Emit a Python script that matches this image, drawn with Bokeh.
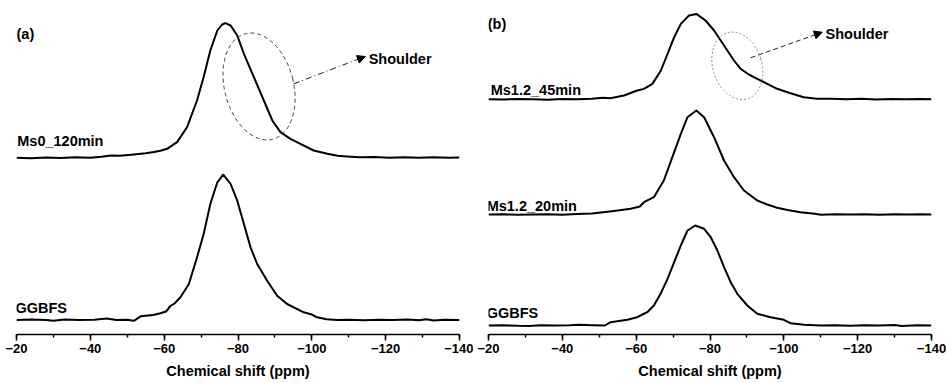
from bokeh.plotting import figure
from bokeh.layouts import row
from bokeh.models import Range1d, SingleIntervalTicker, Arrow, NormalHead
from bokeh.core.properties import value
from bokeh.embed import file_html
from bokeh.resources import INLINE

# ---------------- data (ppm, intensity in a.u.) ----------------
a_ggbfs_ppm = [-20, -24, -28, -30, -33, -37, -41, -44.5, -47, -50, -51.8, -53.6, -57, -59, -60.5,
               -61.7, -62.8, -64.4, -66.7, -68.9, -70.7, -72.5, -74.4, -76, -78, -79.8, -81.6,
               -83.4, -85.2, -87.9, -90.6, -93.3, -97.8, -100, -101.4, -104, -106.9, -110, -114,
               -118, -122, -126, -129, -131, -133, -136, -140]
a_ggbfs_int = [0, 0.5, 0, -0.8, 0.5, 0, 0.3, 1.5, 0, 0.3, -0.8, 3.7, 5, 6.7, 8.5,
               14, 16.5, 22.7, 36, 62.7, 86, 116, 137.7, 145.3, 136, 119.3, 96,
               72.7, 56, 39.3, 24.3, 16, 7.7, 5.5, 2.7, 0.8, 0, 0.3, -0.3,
               0.3, 0, 0.5, -0.3, 0.8, -0.5, 0.3, 0]

a_ms0_ppm = [-20, -24, -28, -32, -36, -40, -43, -45.5, -48, -51.8, -55, -57.2, -59, -60.8, -62,
             -63.5, -66.2, -68.9, -70.7, -72.5, -74.4, -75.7, -76.6, -78, -79.8, -81.6, -84.3,
             -87, -89.3, -91.5, -94.2, -96.9, -100.5, -104.2, -107, -109.6, -113, -117, -121,
             -125, -129, -133, -137, -140]
a_ms0_int = [0, -0.5, 0.3, -0.3, 0.5, 0, 1, 2.3, 2, 3.3, 4.5, 5.7, 7, 9, 12,
             15.7, 30.7, 57.3, 80.7, 107.3, 127.3, 133.3, 134.7, 132.3, 122.3, 104, 80.7,
             57.3, 37.3, 25.7, 19, 14, 7.3, 4, 2, 1.3, 0.5, 0.8, 0,
             0.5, 0, 0.5, 0, 0.3]

b_ms45_ppm = [-20, -24, -28, -32, -36, -40, -44, -48, -51, -53, -56.7, -60.3, -62.1, -64.4,
              -66.7, -68.5, -70.3, -72.1, -74.3, -76.3, -78.8, -81.1, -82.9, -84.7, -86.5,
              -88.3, -90.5, -92.8, -95.5, -98.2, -101.8, -105.4, -109, -113, -117, -121, -125,
              -129, -133, -137, -140]
b_ms45_int = [0, -0.3, 0.3, 0, -0.5, 0.3, 0, 0.5, 1.5, 1, 3.7, 8.7, 10.3, 15.3,
              28.7, 45.3, 62, 75.3, 83.7, 85.3, 78.7, 68.7, 58.7, 48.7, 38.7,
              30.4, 24.7, 20.4, 15.4, 10.4, 6, 2, 0.4, 0.5, 0, 0.5, -0.3,
              0.3, 0, 0.3, 0]

b_ms20_ppm = [-20, -24, -28, -32, -36, -40, -44, -48, -50.4, -54, -58.5, -61, -62.1, -64.8,
              -67.5, -69.8, -72.1, -73.9, -76.3, -78.4, -81.1, -83.8, -86.5, -89.2, -92.8,
              -95.5, -98.2, -101, -104.5, -108.4, -110, -114, -118, -122, -126, -130, -134,
              -137, -140]
b_ms20_int = [0, 0.3, -0.3, 0, 0.3, -0.3, 0.5, 1, 2, 3.5, 5.7, 8, 12.3, 17.3,
              34, 57.3, 80.7, 97.3, 104, 97.3, 77.3, 54, 37.3, 24, 14,
              10, 6.7, 4.5, 2.3, 0.7, -0.3, 0.3, 0, 0.3, -0.3, 0.3, 0,
              0.3, 0]

b_ggbfs_ppm = [-20, -24, -28, -31, -34, -38, -42, -44.5, -48, -51.5, -53.1, -57.6, -60.3, -61.7,
               -63, -64.8, -66.6, -68.5, -70.3, -72.1, -73.9, -76, -78.4, -80.2, -82, -83.8,
               -85.6, -87.4, -90.1, -92.8, -96.4, -100, -101.8, -105.5, -110, -114, -118, -122,
               -126, -130, -132, -136, -140]
b_ggbfs_int = [0, 0.3, -0.3, -0.5, 0.3, 0, 0.3, 0.8, 0.3, 0, 3.3, 5.7, 8.3, 11,
               13.3, 20, 31.7, 46.7, 63.3, 80, 95, 100, 96.7, 88.3, 75, 58.3,
               43.3, 31.7, 20, 11.7, 8.3, 5.7, 2.3, 0.7, 0, 0.3, -0.3, 0.3,
               0, 0.5, -0.5, 0.3, 0]

# vertical offsets of the stacked spectra (a.u.)
a_offsets = {"GGBFS": 14.5, "Ms0_120min": 176.7}
b_offsets = {"GGBFS": 9, "Ms1.2_20min": 120, "Ms1.2_45min": 235.3}

x_ticks_interval = 20
FONT = "Liberation Sans"


def make_panel(min_left, min_right):
    p = figure(width=473, height=383, output_backend="svg", toolbar_location=None,
               x_range=Range1d(-20, -140), y_range=Range1d(0, 334),
               y_axis_location=None, min_border_left=min_left, min_border_right=min_right,
               min_border_top=0, min_border_bottom=49)
    p.outline_line_color = None
    p.grid.visible = False
    p.background_fill_color = "white"
    p.border_fill_color = "white"
    ax = p.xaxis[0]
    ax.ticker = SingleIntervalTicker(interval=x_ticks_interval, num_minor_ticks=2)
    ax.axis_label = "Chemical shift (ppm)"
    ax.axis_label_text_font = FONT
    ax.axis_label_text_font_style = "bold"
    ax.axis_label_text_font_size = "14.5px"
    ax.axis_label_text_color = "black"
    ax.axis_label_standoff = 7
    ax.major_label_text_font = FONT
    ax.major_label_text_font_style = "bold"
    ax.major_label_text_font_size = "13px"
    ax.major_label_text_color = "black"
    ax.major_label_standoff = 3
    ax.axis_line_width = 1.5
    ax.axis_line_color = "black"
    ax.major_tick_line_color = "black"
    ax.minor_tick_line_color = "black"
    ax.major_tick_line_width = 1.5
    ax.minor_tick_line_width = 1.5
    ax.major_tick_in = 0
    ax.major_tick_out = 6
    ax.minor_tick_in = 0
    ax.minor_tick_out = 3
    return p


def add_text(p, x, y, t):
    p.text(x=[x], y=[y], text=[t], text_font=value(FONT), text_font_style="bold",
           text_font_size="14.5px", text_align="left", text_baseline="alphabetic",
           text_color="black")


def add_curve(p, xs, ys, off):
    p.line(xs, [v + off for v in ys], line_color="black", line_width=2, line_join="round")


# ---------------- panel (a) ----------------
pa = make_panel(16, 14)
add_curve(pa, a_ggbfs_ppm, a_ggbfs_int, a_offsets["GGBFS"])
add_curve(pa, a_ms0_ppm, a_ms0_int, a_offsets["Ms0_120min"])
add_text(pa, -20, 300.5, "(a)")
add_text(pa, -20.2, 194, "Ms0_120min")
add_text(pa, -19.7, 26.7, "GGBFS")
add_text(pa, -115.4, 275.7, "Shoulder")
pa.ellipse(x=[-85.7], y=[248], width=69, height=109, width_units="screen", height_units="screen",
           angle=0.25, fill_color=None, line_color="#444444", line_width=1, line_dash="4 3")
pa.add_layout(Arrow(x_start=-95.1, y_start=250.7, x_end=-114.5, y_end=278,
                    line_color="#222222", line_width=1, line_dash="6 3 1 3",
                    end=NormalHead(size=8, fill_color="black", line_color="black")))

# ---------------- panel (b) ----------------
pb = make_panel(15, 15)
add_curve(pb, b_ggbfs_ppm, b_ggbfs_int, b_offsets["GGBFS"])
add_curve(pb, b_ms20_ppm, b_ms20_int, b_offsets["Ms1.2_20min"])
add_curve(pb, b_ms45_ppm, b_ms45_int, b_offsets["Ms1.2_45min"])
add_text(pb, -19.8, 310.5, "(b)")
add_text(pb, -20.6, 244.7, "Ms1.2_45min")
add_text(pb, -19.5, 129, "Ms1.2_20min")
add_text(pb, -19.5, 22, "GGBFS")
add_text(pb, -111.3, 300.7, "Shoulder")
pb.ellipse(x=[-87.4], y=[268.7], width=49, height=69, width_units="screen", height_units="screen",
           angle=0.295, fill_color=None, line_color="#888888", line_width=1, line_dash="2 2")
pb.add_layout(Arrow(x_start=-91.0, y_start=276.7, x_end=-110.4, y_end=302.3,
                    line_color="#222222", line_width=1, line_dash="5 3",
                    end=NormalHead(size=8, fill_color="black", line_color="black")))

layout = row(pa, pb)
open("out.html", "w").write(file_html(layout, INLINE))
